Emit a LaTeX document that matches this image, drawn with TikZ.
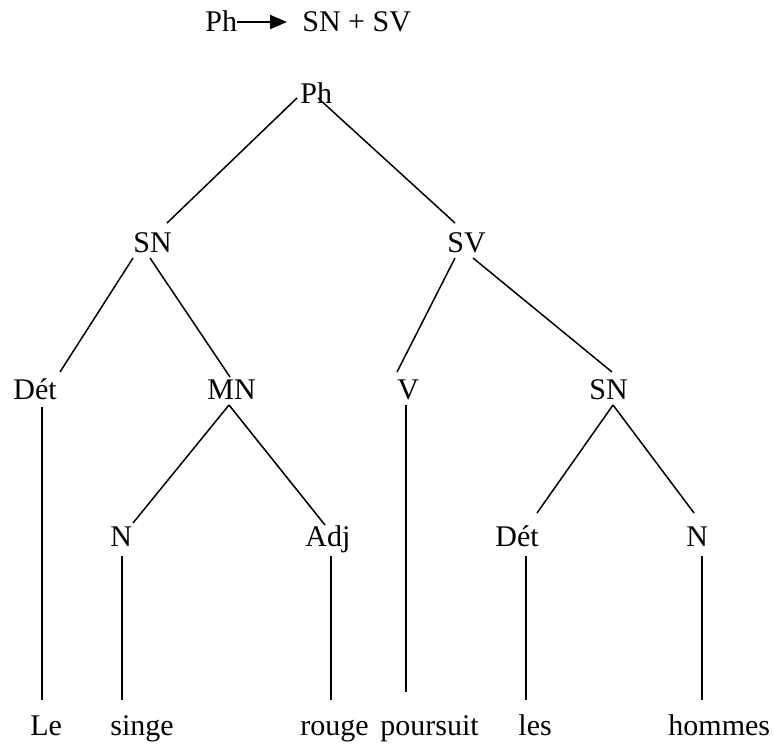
\documentclass[tikz,border=0pt]{standalone}
\usepackage{fontspec}
\setmainfont{Liberation Serif}
\usetikzlibrary{arrows.meta,calc}

\begin{document}
\begin{tikzpicture}[
  x=0.5pt, y=-0.5pt,
  lbl/.style={anchor=base west, inner sep=0pt, font=\fontsize{15}{18}\selectfont},
  branch/.style={line width=0.75pt},
  rewrite/.style={-{Triangle[length=8.5pt,width=7pt]}, line width=1pt},
]
\useasboundingbox (0,0) rectangle (774,744);

% Rule on top
\node[lbl] (rph) at (205,32) {Ph};
\node[lbl] (rhs) at (302,32) {SN + SV};
\draw[rewrite] ($(rph.base east)+(0,-10)$) -- ($(rhs.base west)+(-15,-10)$);

% Row 1: root
\node[lbl] (ph) at (300,103) {Ph};

% Row 2
\node[lbl] (sn) at (133,252) {SN};
\node[lbl] (sv) at (447,252) {SV};

% Row 3
\node[lbl] (det) at (13,399) {Dét};
\node[lbl] (mn) at (207,399) {MN};
\node[lbl] (v) at (397,399) {V};
\node[lbl] (sn2) at (589,399) {SN};

% Row 4
\node[lbl] (n) at (110,546) {N};
\node[lbl] (adj) at (305,546) {Adj};
\node[lbl] (det2) at (495,546) {Dét};
\node[lbl] (n2) at (686,546) {N};

% Row 5: words
\node[lbl] (le) at (30,735) {Le};
\node[lbl] (singe) at (110,735) {singe};
\node[lbl] (rouge) at (300,735) {rouge};
\node[lbl] (poursuit) at (380,735) {poursuit};
\node[lbl] (les) at (518,735) {les};
\node[lbl] (hommes) at (668,735) {hommes};

% Branches: Ph
\draw[branch] ($(ph.base west)+(-3,-5)$) -- ($(sn.base west)+(34,-29)$);
\draw[branch] ($(ph.base west)+(18,-5)$) -- ($(sv.base west)+(8,-29)$);
% Branches: SN, SV
\draw[branch] ($(sn.base west)+(0,6)$) -- ($(det.base west)+(47,-27)$);
\draw[branch] ($(sn.base west)+(17,6)$) -- ($(mn.base west)+(23,-22)$);
\draw[branch] ($(sv.base west)+(8,6)$) -- ($(v.base west)+(0,-27)$);
\draw[branch] ($(sv.base west)+(26,6)$) -- ($(sn2.base west)+(23,-27)$);
% Branches: MN, SN
\draw[branch] ($(mn.base west)+(22,6)$) -- ($(n.base west)+(23,-23)$);
\draw[branch] ($(mn.base west)+(22,6)$) -- ($(adj.base west)+(20,-21)$);
\draw[branch] ($(sn2.base west)+(24,6)$) -- ($(det2.base west)+(42,-33)$);
\draw[branch] ($(sn2.base west)+(24,6)$) -- ($(n2.base west)+(8,-33)$);
% Down to the words
\draw[branch] ($(det.base west)+(29,8)$) -- ($(le.base west)+(12,-35)$);
\draw[branch] ($(v.base west)+(9,6)$) -- ($(poursuit.base west)+(26,-43)$);
\draw[branch] ($(n.base west)+(12,10)$) -- ($(singe.base west)+(12,-35)$);
\draw[branch] ($(adj.base west)+(26,10)$) -- ($(rouge.base west)+(31,-35)$);
\draw[branch] ($(det2.base west)+(31,10)$) -- ($(les.base west)+(8,-35)$);
\draw[branch] ($(n2.base west)+(16,10)$) -- ($(hommes.base west)+(34,-35)$);
\end{tikzpicture}
\end{document}
